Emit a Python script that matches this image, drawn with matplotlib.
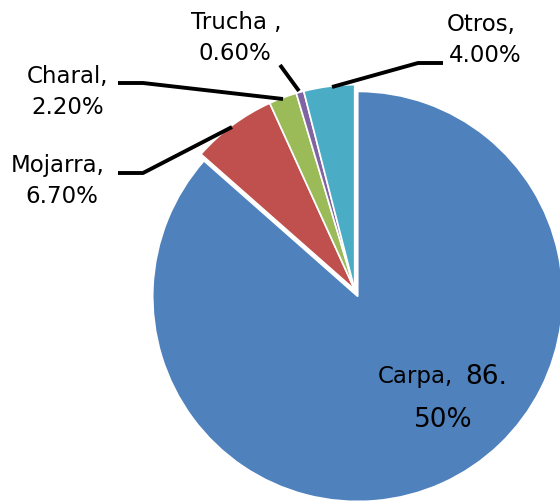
import matplotlib
matplotlib.use("Agg")
import matplotlib.pyplot as plt

labels = ["Carpa", "Mojarra", "Charal", "Trucha", "Otros"]
values = [86.5, 6.7, 2.2, 0.6, 4.0]
colors = ["#4F81BD", "#C0504D", "#9BBB59", "#8064A2", "#4BACC6"]
explode = [0.036, 0, 0, 0, 0]

W, H = 560, 501
CX, CY, R = 354.7, 289.7, 205.0

fig = plt.figure(figsize=(W / 100, H / 100), dpi=100)
ax = fig.add_axes([0, 0, 1, 1])

ax.pie(values, colors=colors, startangle=90, counterclock=False, explode=explode,
       radius=1, center=(0, 0), frame=True,
       wedgeprops=dict(edgecolor="white", linewidth=1.2))
ax.set_xlim(-CX / R, (W - CX) / R)
ax.set_ylim((CY - H) / R, CY / R)
ax.set_aspect("auto")
ax.axis("off")


def P(x, y):
    return (x - CX) / R, (CY - y) / R


font = "DejaVu Sans"
fs = 16.5
fs_big = 19


def txt(s, x, y, size=fs, ha="center"):
    ax.text(*P(x, y), s, fontsize=size, family=font, ha=ha, va="baseline", color="black")


def line(pts):
    xs, ys = zip(*[P(x, y) for x, y in pts])
    ax.plot(xs, ys, color="black", lw=2.8, solid_capstyle="butt")


# Trucha
txt("Trucha ,", 236, 29)
txt(f"{values[3]:.2f}%", 235, 60)
line([(280, 65), (299, 91)])
# Otros
txt("Otros,", 481, 31)
txt(f"{values[4]:.2f}%", 485, 62)
line([(332, 87), (418, 63), (443, 63)])
# Charal
txt("Charal,", 67, 83)
txt(f"{values[2]:.2f}%", 68, 114)
line([(118, 83), (143, 83), (283, 99)])
# Mojarra
txt("Mojarra,", 58, 172)
txt(f"{values[1]:.2f}%", 62, 203)
line([(118, 173), (143, 173), (232, 127)])
# Carpa
txt("Carpa,", 415, 383)
txt("86.", 486, 384, size=fs_big)
txt("50%", 443, 427, size=fs_big)

fig.savefig("out.png", dpi=100)
